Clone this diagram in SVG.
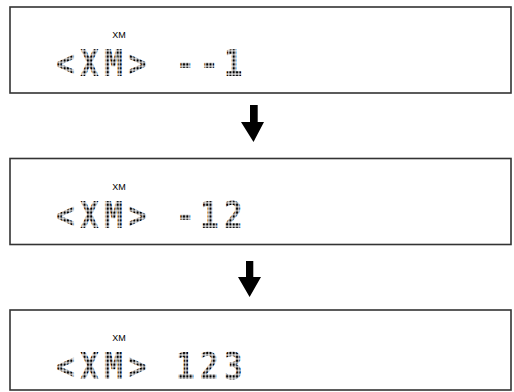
<svg xmlns="http://www.w3.org/2000/svg" width="514" height="392" viewBox="0 0 514 392">
<defs>
<pattern id="dots" patternUnits="userSpaceOnUse" width="3.9" height="3.9">
<rect x="0.6" y="0.6" width="2.7" height="2.7" fill="#000"/>
</pattern>
<style>
.box{fill:#fff;stroke:#333;stroke-width:1.6}
.lcd{font-family:"DejaVu Sans Mono","Liberation Mono",monospace;font-size:37px;font-weight:bold;letter-spacing:5.9px;fill:url(#dots)}
.tag{font-family:"Liberation Sans",Arial,sans-serif;font-size:9px;fill:#000;text-anchor:middle}
.arr{fill:#000}
</style>
</defs>
<rect width="514" height="392" fill="#fff"/>
<g id="display1">
<rect class="box" x="10" y="7" width="501" height="86"/>
<text class="tag" x="119" y="38">XM</text>
<text class="lcd" transform="scale(0.85,1)" x="66" y="76">&lt;XM&gt; --1</text>
</g>
<g id="display2">
<rect class="box" x="10" y="158.5" width="501" height="86"/>
<text class="tag" x="119" y="189.5">XM</text>
<text class="lcd" transform="scale(0.85,1)" x="66" y="228">&lt;XM&gt; -12</text>
</g>
<g id="display3">
<rect class="box" x="10" y="310" width="501" height="80"/>
<text class="tag" x="119" y="341">XM</text>
<text class="lcd" transform="scale(0.85,1)" x="66" y="379">&lt;XM&gt; 123</text>
</g>
<g id="connectors">
<polygon class="arr" points="250,105 257.7,105 257.7,122 264,122 253.5,142 241,122 250,122"/>
<polygon class="arr" points="246,261 253.3,261 253.3,277 261,277 249.6,297 238,277 246,277"/>
</g>
</svg>
